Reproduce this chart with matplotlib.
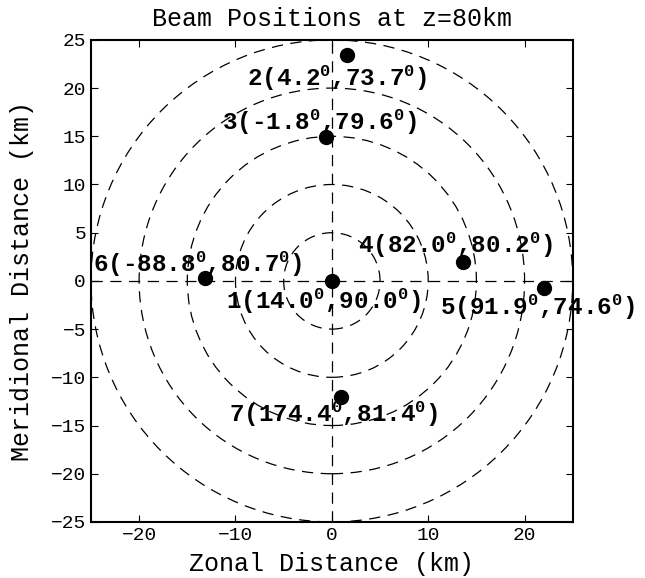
import numpy as np
import matplotlib
matplotlib.use('Agg')
import matplotlib.pyplot as plt
from matplotlib.patches import Circle

# beam positions (km) at z=80km
beam = [1, 2, 3, 4, 5, 6, 7]
zonal = [0.0, 1.6, -0.6, 13.6, 22.0, -13.2, 1.0]
merid = [0.0, 23.4, 14.9, 2.0, -0.7, 0.3, -12.0]
azim = ['14.0', '4.2', '-1.8', '82.0', '91.9', '-88.8', '174.4']
zen = ['90.0', '73.7', '79.6', '80.2', '74.6', '80.7', '81.4']
radii = [5, 10, 15, 20, 25]

# where the labels sit (left edge, vertical centre)
lab_x = [-11.0, -8.8, -11.4, 2.7, 11.2, -24.8, -10.7]
lab_y = [-2.1, 21.0, 16.4, 3.7, -2.7, 1.7, -13.8]

plt.rcParams['font.family'] = 'Liberation Mono'
plt.rcParams['mathtext.fontset'] = 'custom'
plt.rcParams['mathtext.rm'] = 'Liberation Mono:bold'
plt.rcParams['mathtext.default'] = 'rm'

fig = plt.figure(figsize=(6.45, 5.78), dpi=100)
ax = fig.add_axes([0.141, 0.097, 0.747, 0.834])

for r in radii:
    ax.add_patch(Circle((0, 0), r, fill=False, ec='k', lw=0.9, ls=(0, (9, 6))))
ax.axhline(0, color='k', lw=0.9, ls=(0, (9, 6)))
ax.axvline(0, color='k', lw=0.9, ls=(0, (9, 6)))

ax.plot(zonal, merid, 'o', color='k', ms=10, zorder=3)
for i in range(len(beam)):
    s = '%d(%s$^{0}$,%s$^{0}$)' % (beam[i], azim[i], zen[i])
    ax.text(lab_x[i], lab_y[i], s, ha='left', va='center', fontsize=17.5,
            fontweight='bold', zorder=4)

ax.set_xlim(-25, 25)
ax.set_ylim(-25, 25)
ax.set_xticks([-20, -10, 0, 10, 20])
ax.set_yticks(np.arange(-25, 26, 5))
ax.set_xticklabels(['\u221220', '\u221210', '0', '10', '20'])
ax.set_yticklabels(['\u221225', '\u221220', '\u221215', '\u221210', '\u22125', '0',
                    '5', '10', '15', '20', '25'])
ax.tick_params(direction='in', top=True, right=True, labelsize=14, length=5)
for sp in ax.spines.values():
    sp.set_linewidth(1.5)

ax.set_xlabel('Zonal Distance (km)', fontsize=18, labelpad=6)
ax.set_ylabel('Meridional Distance (km)', fontsize=18, labelpad=12)
ax.set_title('Beam Positions at z=80km', fontsize=18, pad=10)

plt.savefig('out.png', dpi=100)
